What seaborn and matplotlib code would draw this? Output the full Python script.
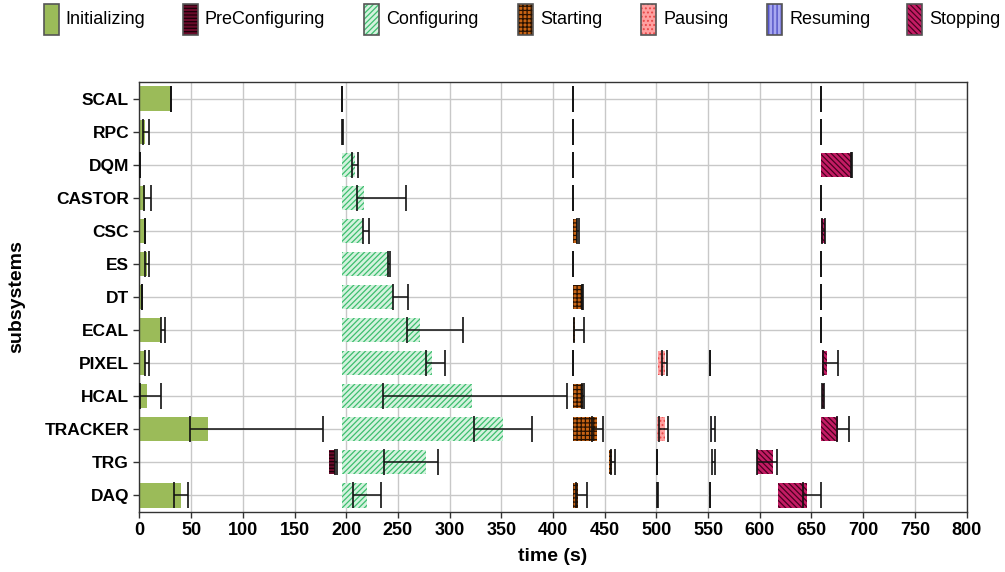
import numpy as np
import pandas as pd
import seaborn as sns
from matplotlib import pyplot as plt
from matplotlib.patches import Rectangle

nan = np.nan

subsystems = ['SCAL', 'RPC', 'DQM', 'CASTOR', 'CSC', 'ES', 'DT',
              'ECAL', 'PIXEL', 'HCAL', 'TRACKER', 'TRG', 'DAQ']

# Initializing (all start at 0)
init_end = [30, 5, 0.5, 5, 6, 7, 3, 20.5, 5.5, 7.5, 66.5, 0, 39.8]
init_lo = [30, 3, 0.5, 4, 5.5, 5.5, 2.5, 20.5, 5, 0.5, 49, nan, 33.4]
init_hi = [30, 9, 0.5, 11, 5.5, 9, 2.5, 24.4, 9, 21, 177.5, nan, 46.6]

# PreConfiguring
precfg_start = [nan] * 11 + [183.3, nan]
precfg_end = [nan] * 11 + [188.8, nan]
precfg_lo = [nan] * 11 + [188.8, nan]
precfg_hi = [nan] * 11 + [190.7, nan]

# Configuring
cfg_start = [195.5, 196, 196, 196, 196, 196, 196, 196, 196, 196, 196, 196, 196]
cfg_end = [195.5, 196, 208, 217, 216, 241, 245.5, 271, 282.6, 321.3, 351.2, 277, 220.3]
cfg_lo = [195.5, 196, 206, 210.7, 216.5, 240, 245.5, 258.7, 276.8, 235.8, 323.8, 236.8, 206.5]
cfg_hi = [195.5, 196.4, 211.6, 258, 222, 242, 259.7, 312.9, 295.8, 413.7, 380, 288.7, 233.6]

# Starting
start_start = [419, 419, 419, 419, 419.5, 419, 419.5, 419.5, 419, 419.5, 419.5, 454, 419.5]
start_end = [419, 419, 419, 419, 422.8, 419, 427.6, 421.7, 419, 428.6, 442.8, 457.3, 424.4]
start_lo = [419, 419, 419, 419, 422.8, 419, 427.6, 420.5, 419, 427.6, 437.3, 456.5, 422.6]
start_hi = [419, 419, 419, 419, 425, 419, 429, 430, 419, 430, 448, 460, 433]

# Pausing
pause_start = [nan] * 8 + [501.8, nan, 501, 500.2, 500.8]
pause_end = [nan] * 8 + [508.2, nan, 508.2, 500.2, 500.8]
pause_lo = [nan] * 8 + [505.3, nan, 502.7, 500.2, 500.8]
pause_hi = [nan] * 8 + [510, nan, 511.4, 500.2, 501.2]

# Resuming
resume_start = [nan] * 8 + [551.7, nan, 552.4, 553.4, 552]
resume_end = [nan] * 8 + [551.7, nan, 553.5, 554, 552]
resume_lo = [nan] * 8 + [551.7, nan, 552.4, 553.4, 552]
resume_hi = [nan] * 8 + [552.1, nan, 556.6, 556.6, 552.3]

# Stopping
stop_start = [659, 659, 659, 659, 659.7, 659, 659, 659, 659.8, 660, 659, 597.5, 617.2]
stop_end = [659, 659, 688.6, 659, 663.2, 659, 659, 659, 665.2, 662, 675.8, 613, 645.8]
stop_lo = [659, 659, 688, 659, 660, 659, 659, 659, 661, 660.5, 675.2, 597.5, 642]
stop_hi = [659.4, 659, 689.7, 659.4, 663, 659, 659.4, 659.4, 675.8, 662, 686.8, 616.8, 658.8]

phases = ['Initializing', 'PreConfiguring', 'Configuring', 'Starting',
          'Pausing', 'Resuming', 'Stopping']
face = ['#9BBB59', '#6B0A2A', '#D4F2DE', '#C86414', '#FFA0A0', '#A8A8F0', '#C41C64']
hatch_col = ['#9BBB59', '#1a0008', '#3DBE6E', '#2a1200', '#E84848', '#4848C0', '#4a0020']
hatches = [None, '-----', '//////', '++++', '....', '||||', '\\\\\\\\\\\\']

sns.set_style('whitegrid')
plt.rcParams['font.family'] = ['Liberation Sans', 'DejaVu Sans']
plt.rcParams['hatch.linewidth'] = 0.9
for key in ['text.color', 'axes.labelcolor', 'xtick.color', 'ytick.color']:
    plt.rcParams[key] = 'black'

W, H = 1005, 572
fig = plt.figure(figsize=(W / 100, H / 100), dpi=100)
ax = fig.add_axes([0.1388, 0.1049, 0.8229, 0.7517])

df = pd.DataFrame({'subsystem': subsystems, 'end': init_end})
sns.barplot(data=df, x='end', y='subsystem', order=subsystems, orient='h',
            color=face[0], saturation=1, width=0.73, linewidth=0, ax=ax)

ypos = np.arange(len(subsystems))
others = [
    (precfg_start, precfg_end),
    (cfg_start, cfg_end),
    (start_start, start_end),
    (pause_start, pause_end),
    (resume_start, resume_end),
    (stop_start, stop_end),
]
for k, (s, e) in enumerate(others, start=1):
    s = np.array(s, dtype=float)
    e = np.array(e, dtype=float)
    ok = ~np.isnan(s) & (e - s > 0)
    ax.barh(ypos[ok], (e - s)[ok], left=s[ok], height=0.73,
            color=face[k], edgecolor=hatch_col[k], hatch=hatches[k],
            linewidth=0, zorder=2)

errs = [(init_lo, init_hi), (precfg_lo, precfg_hi), (cfg_lo, cfg_hi),
        (start_lo, start_hi), (pause_lo, pause_hi), (resume_lo, resume_hi),
        (stop_lo, stop_hi)]
for lo, hi in errs:
    lo = np.array(lo, dtype=float)
    hi = np.array(hi, dtype=float)
    ok = ~np.isnan(lo)
    ax.errorbar((lo + hi)[ok] / 2, ypos[ok], xerr=(hi - lo)[ok] / 2,
                fmt='none', ecolor='#111111', elinewidth=1.1,
                capsize=9.6, capthick=1.2, zorder=3)

ax.set_xlim(0, 800)
ax.set_ylim(12.5, -0.5)
ax.set_xticks(np.arange(0, 801, 50))
ax.grid(True, color='#c8c8c8', linewidth=1)
ax.set_axisbelow(True)
for sp in ax.spines.values():
    sp.set_visible(True)
    sp.set_color('#333333')
    sp.set_linewidth(1)
ax.tick_params(axis='both', which='both', bottom=True, left=True,
               length=4, direction='out', color='#333333', width=1)
for lab in ax.get_xticklabels():
    lab.set_fontweight('bold')
    lab.set_fontsize(13)
for lab in ax.get_yticklabels():
    lab.set_fontweight('bold')
    lab.set_fontsize(12.5)
ax.set_xlabel('time (s)', fontsize=14, fontweight='bold', labelpad=6)
ax.set_ylabel('subsystems', fontsize=14, fontweight='bold', labelpad=14)

# legend row across the top, placed by pixel
patch_left = [43.5, 182.5, 364, 518, 641, 767, 907]
for i, name in enumerate(phases):
    x0 = patch_left[i]
    box = ((x0 / W, 1 - 35 / H), 15 / W, 31 / H)
    # filled + hatched body, then a grey outline on top
    fig.add_artist(Rectangle(*box, transform=fig.transFigure,
                             facecolor=face[i], edgecolor=hatch_col[i],
                             hatch=hatches[i], linewidth=0))
    fig.add_artist(Rectangle(*box, transform=fig.transFigure,
                             facecolor='none', edgecolor='#555555',
                             linewidth=1.2))
    fig.text((x0 + 22) / W, 1 - 19.5 / H, name, fontsize=13,
             ha='left', va='center')

fig.savefig('out.png', dpi=100)
